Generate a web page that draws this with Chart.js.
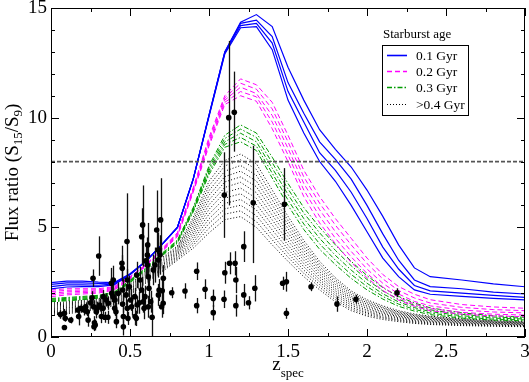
<html>
<head>
<script src="https://cdn.jsdelivr.net/npm/chart.js@4.4.1/dist/chart.umd.min.js"></script>
</head>
<body style="margin:0; background:#fff; overflow:hidden;">
<canvas id="fluxChart" width="529" height="382"></canvas>
<script>
// model grid in redshift
const zGrid = [0,0.1,0.2,0.3,0.4,0.5,0.6,0.7,0.8,0.9,1.0,1.1,1.2,1.3,1.4,1.5,1.6,1.7,1.8,1.9,2.0,2.1,2.2,2.3,2.4,2.6,2.8,3.0];

// 0.1 Gyr starburst tracks
const blueRuns = [
  [2.48,2.55,2.55,2.50,2.48,2.88,3.45,4.20,5.00,7.20,10.10,13.00,14.35,14.70,14.15,12.30,10.80,9.45,8.55,7.75,6.70,5.50,4.20,3.15,2.75,2.60,2.42,2.29],
  [2.40,2.47,2.47,2.44,2.45,2.86,3.45,4.20,5.00,7.20,10.10,13.00,14.30,14.45,13.70,11.60,10.20,8.90,8.10,7.20,6.00,4.70,3.50,2.60,2.30,2.20,2.05,1.96],
  [2.30,2.38,2.38,2.36,2.42,2.85,3.45,4.20,5.00,7.20,10.10,12.95,14.20,14.30,13.40,11.20,9.80,8.40,7.60,6.60,5.40,4.10,3.10,2.35,2.10,2.00,1.90,1.81],
  [2.19,2.28,2.30,2.30,2.38,2.84,3.45,4.20,5.00,7.20,10.05,12.90,14.10,14.15,13.10,10.80,9.30,8.00,7.10,6.00,4.80,3.60,2.75,2.15,1.95,1.85,1.76,1.69]
];
// 0.2 Gyr
const pinkRuns = [
  [2.14,2.20,2.20,2.20,2.30,2.75,3.30,4.00,4.76,6.80,9.10,11.00,11.77,11.50,10.70,9.20,7.60,6.40,5.40,4.50,3.60,2.85,2.30,1.95,1.70,1.48,1.37,1.31],
  [2.07,2.13,2.14,2.15,2.26,2.72,3.28,3.97,4.72,6.75,9.00,10.90,11.57,11.30,10.40,8.90,7.30,6.10,5.10,4.20,3.35,2.65,2.12,1.78,1.55,1.35,1.25,1.20],
  [1.99,2.06,2.08,2.10,2.22,2.70,3.26,3.94,4.67,6.70,8.90,10.80,11.39,11.10,10.10,8.60,7.00,5.80,4.80,3.90,3.10,2.45,1.96,1.62,1.42,1.23,1.14,1.10],
  [1.92,1.99,2.02,2.05,2.18,2.67,3.24,3.91,4.62,6.65,8.80,10.70,11.19,10.95,9.80,8.30,6.70,5.50,4.50,3.65,2.90,2.28,1.80,1.50,1.30,1.12,1.04,1.00],
  [1.84,1.92,1.96,2.00,2.14,2.64,3.22,3.88,4.57,6.60,8.70,10.60,11.00,10.75,9.50,8.00,6.40,5.20,4.25,3.40,2.70,2.12,1.68,1.40,1.20,1.04,0.96,0.93]
];
// 0.3 Gyr
const greenRuns = [
  [1.76,1.80,1.85,1.90,2.05,2.60,3.15,3.80,4.42,5.90,7.80,9.20,9.67,9.30,8.20,7.00,5.90,5.00,4.20,3.45,2.80,2.25,1.85,1.55,1.33,1.10,0.97,0.90],
  [1.72,1.76,1.81,1.86,2.02,2.57,3.12,3.77,4.38,5.85,7.70,9.05,9.48,9.10,7.95,6.75,5.65,4.75,3.95,3.25,2.62,2.10,1.72,1.44,1.24,1.03,0.91,0.86],
  [1.68,1.72,1.77,1.83,1.99,2.54,3.09,3.74,4.35,5.80,7.60,8.90,9.29,8.90,7.70,6.50,5.40,4.50,3.72,3.05,2.45,1.97,1.60,1.34,1.16,0.97,0.86,0.82],
  [1.64,1.68,1.73,1.80,1.96,2.51,3.06,3.71,4.31,5.75,7.50,8.78,9.10,8.70,7.47,6.25,5.15,4.25,3.50,2.85,2.30,1.85,1.50,1.26,1.09,0.91,0.81,0.78],
  [1.61,1.65,1.70,1.77,1.93,2.48,3.03,3.68,4.28,5.70,7.40,8.65,8.90,8.50,7.25,6.00,4.90,4.00,3.30,2.67,2.15,1.73,1.40,1.18,1.02,0.86,0.77,0.74]
];
// >0.4 Gyr
const greyRuns = [
  [1.55,1.60,1.67,1.75,1.90,2.42,3.00,3.60,4.15,5.45,7.10,8.05,8.34,7.90,6.70,5.50,4.40,3.45,2.70,2.10,1.70,1.42,1.20,1.05,0.95,0.83,0.75,0.70],
  [1.50,1.55,1.62,1.71,1.86,2.37,2.95,3.54,4.09,5.32,6.89,7.80,8.08,7.64,6.47,5.31,4.25,3.33,2.60,2.02,1.63,1.36,1.15,1.01,0.92,0.80,0.73,0.68],
  [1.45,1.50,1.58,1.66,1.81,2.33,2.90,3.48,4.03,5.20,6.67,7.56,7.82,7.37,6.25,5.13,4.10,3.21,2.50,1.94,1.56,1.31,1.11,0.97,0.88,0.77,0.70,0.66],
  [1.40,1.45,1.53,1.62,1.77,2.28,2.85,3.42,3.97,5.07,6.46,7.31,7.56,7.11,6.02,4.94,3.95,3.10,2.40,1.85,1.50,1.25,1.06,0.93,0.85,0.75,0.68,0.64],
  [1.35,1.40,1.48,1.58,1.73,2.23,2.80,3.36,3.91,4.94,6.25,7.07,7.30,6.85,5.79,4.75,3.80,2.98,2.30,1.77,1.43,1.19,1.02,0.89,0.81,0.72,0.66,0.62],
  [1.30,1.35,1.43,1.53,1.68,2.18,2.75,3.30,3.85,4.81,6.03,6.82,7.05,6.58,5.56,4.57,3.65,2.86,2.20,1.69,1.36,1.14,0.97,0.85,0.78,0.69,0.63,0.60],
  [1.25,1.31,1.39,1.49,1.64,2.14,2.70,3.25,3.80,4.69,5.82,6.58,6.79,6.32,5.34,4.38,3.50,2.74,2.10,1.61,1.29,1.08,0.93,0.82,0.74,0.66,0.61,0.57],
  [1.20,1.26,1.34,1.45,1.60,2.09,2.65,3.19,3.74,4.56,5.60,6.33,6.53,6.05,5.11,4.19,3.35,2.62,2.00,1.53,1.22,1.03,0.88,0.78,0.71,0.63,0.59,0.55],
  [1.15,1.21,1.29,1.40,1.55,2.04,2.60,3.13,3.68,4.43,5.39,6.09,6.27,5.79,4.88,4.01,3.20,2.51,1.90,1.45,1.15,0.97,0.84,0.74,0.67,0.61,0.56,0.53],
  [1.10,1.16,1.24,1.36,1.51,1.99,2.55,3.07,3.62,4.30,5.18,5.84,6.01,5.53,4.65,3.82,3.05,2.39,1.80,1.36,1.09,0.91,0.79,0.70,0.64,0.58,0.54,0.51],
  [1.05,1.11,1.20,1.31,1.46,1.95,2.50,3.01,3.56,4.18,4.96,5.60,5.75,5.26,4.43,3.64,2.90,2.27,1.70,1.28,1.02,0.86,0.75,0.66,0.60,0.55,0.51,0.49],
  [1.00,1.06,1.15,1.27,1.42,1.90,2.45,2.95,3.50,4.05,4.75,5.35,5.49,5.00,4.20,3.45,2.75,2.15,1.60,1.20,0.95,0.80,0.70,0.62,0.57,0.52,0.49,0.47]
];

// observed galaxies
const obsZ = [
  0.06,0.085,0.09,0.085,0.125,0.17,0.175,0.19,0.21,0.22,
  0.23,0.235,0.25,0.26,0.266,0.27,0.275,0.272,0.28,0.287,
  0.293,0.302,0.308,0.319,0.33,0.33,0.34,0.35,0.36,0.363,
  0.382,0.384,0.394,0.392,0.405,0.403,0.411,0.414,0.426,0.449,
  0.451,0.453,0.453,0.458,0.458,0.475,0.481,0.483,0.483,0.487,
  0.496,0.504,0.51,0.53,0.532,0.54,0.542,0.545,0.559,0.563,
  0.574,0.574,0.58,0.589,0.584,0.595,0.6,0.61,0.612,0.61,
  0.616,0.62,0.616,0.631,0.64,0.648,0.658,0.669,0.679,0.68,
  0.68,0.684,0.69,0.694,0.7,0.704,0.711,0.71,0.764,0.848,
  0.922,0.922,0.975,1.027,1.027,1.095,1.1,1.097,1.125,1.16,
  1.13,1.165,1.17,1.17,1.22,1.22,1.25,1.28,1.29,1.477,
  1.466,1.49,1.49,1.646,1.81,1.93,2.19
];
const obsFlux = [
  1.03,1.08,0.85,0.43,0.77,1.23,0.93,1.31,1.23,1.38,
  1.15,0.77,1.56,1.79,2.68,1.38,0.65,0.47,0.55,1.15,
  1.31,3.69,1.46,0.93,1.31,1.84,0.9,1.69,0.9,1.54,
  2.45,1.99,2.6,1.84,1.69,1.31,1.15,0.7,1.99,3.36,
  3.13,2.14,1.5,0.93,0.47,1.92,4.35,2.6,1.31,0.85,
  2.29,1.69,1.38,1.84,0.93,0.85,2.83,1.46,1.56,2.6,
  2.14,4.57,5.11,1.31,1.61,1.84,3.47,3.74,4.2,3.28,
  2.75,2.22,1.38,1.61,0.9,3.06,3.28,4.88,3.97,3.51,
  1.92,2.14,3.74,5.34,1.38,2.11,2.68,1.54,2.02,2.1,
  3.0,1.43,2.18,1.76,1.11,1.72,2.93,6.47,10.0,10.25,
  3.36,3.36,2.6,1.43,4.12,1.92,1.56,6.12,2.22,6.05,
  2.45,2.52,1.08,2.29,1.5,1.72,2.02
];
const obsErrLo = [
  0.2,0.2,0.15,0.1,0.15,0.2,0.4,0.2,0.25,0.2,
  0.2,0.3,0.25,0.3,0.4,0.3,0.3,0.2,0.25,0.3,
  0.3,0.9,0.3,0.3,0.3,0.3,0.25,0.3,0.3,0.3,
  0.7,0.4,0.65,0.4,0.4,0.35,0.4,0.3,0.5,0.8,
  0.6,0.5,0.4,0.5,0.4,0.5,1.75,0.5,0.4,0.3,
  0.5,0.5,0.4,0.4,0.4,0.35,0.6,0.4,0.5,0.6,
  0.6,1.3,1.9,0.5,0.5,0.5,0.7,0.8,1.0,0.6,
  0.6,0.6,0.5,0.5,0.9,0.7,0.8,1.1,0.8,0.8,
  0.5,0.5,0.9,1.6,0.5,0.6,0.6,0.5,0.25,0.35,
  0.4,0.35,0.45,0.4,0.35,0.4,0.5,1.95,4.0,1.8,
  0.5,0.55,0.6,0.5,0.7,0.5,0.3,2.75,0.6,1.65,
  0.3,0.45,0.25,0.2,0.35,0.2,0.2
];
const obsErrHi = [
  0.2,0.2,0.15,0.1,0.15,0.2,0.4,0.2,0.25,0.2,
  0.2,0.3,0.25,0.3,0.4,0.3,0.3,0.2,0.25,0.3,
  0.3,0.9,0.3,0.3,0.3,0.3,0.25,0.3,0.3,0.3,
  0.7,0.4,0.65,0.4,0.4,0.35,0.4,0.3,0.5,0.8,
  0.6,0.5,0.4,0.5,0.4,0.5,2.2,0.5,0.4,0.3,
  0.5,0.5,0.4,0.4,0.4,0.35,0.6,0.4,0.5,0.6,
  0.6,1.3,1.8,0.5,0.5,0.5,0.7,0.8,1.0,0.6,
  0.6,0.6,0.5,0.5,0.9,0.7,0.8,1.8,0.8,0.8,
  0.5,0.5,0.9,1.9,0.5,0.6,0.6,0.5,0.25,0.35,
  0.4,0.35,0.45,0.4,0.35,0.4,0.5,1.95,3.5,1.85,
  0.5,0.55,0.6,0.5,0.7,0.5,0.3,2.6,0.6,1.65,
  0.3,0.45,0.25,0.2,0.35,0.2,0.2
];

const cutZ = [0, 3];
const cutFlux = [8, 8];

const xTicks = [0, 0.5, 1, 1.5, 2, 2.5, 3];
const yTicks = [0, 5, 10, 15];
const xMinor = [0.25, 0.75, 1.25, 1.75, 2.25, 2.75];
const yMinor = [1,2,3,4,6,7,8,9,11,12,13,14];

const ageLabels = ['0.1 Gyr', '0.2 Gyr', '0.3 Gyr', '>0.4 Gyr'];

const serif = "'Liberation Serif', 'Times New Roman', serif";
const styles = [
  {color: '#0000ff', dash: [], width: 1.2},
  {color: '#ff00ff', dash: [5, 3], width: 1},
  {color: '#009a00', dash: [5, 2, 1.5, 2], width: 1},
  {color: '#000000', dash: [1, 2], width: 1}
];

function track(row, st) {
  return {
    data: zGrid.map((z, j) => ({x: z, y: row[j]})),
    showLine: true, pointRadius: 0, fill: false,
    borderColor: st.color, borderWidth: st.width, borderDash: st.dash
  };
}

const datasets = [];
datasets.push({
  data: obsZ.map((z, i) => ({x: z, y: obsFlux[i]})),
  pointRadius: 2.8, pointBackgroundColor: '#000', pointBorderColor: '#000', pointBorderWidth: 0,
  showLine: false
});
datasets.push({
  data: cutZ.map((z, i) => ({x: z, y: cutFlux[i]})),
  showLine: true, pointRadius: 0, borderColor: '#555', borderWidth: 1.8, borderDash: [4, 2]
});
blueRuns.forEach(r => datasets.push(track(r, styles[0])));
pinkRuns.forEach(r => datasets.push(track(r, styles[1])));
greenRuns.forEach(r => datasets.push(track(r, styles[2])));
greyRuns.forEach(r => datasets.push(track(r, styles[3])));

const decor = {
  id: 'decor',
  beforeDatasetDraw(chart, args) {
    if (args.index !== 0) return;
    const {ctx, chartArea: a, scales: {x, y}} = chart;
    ctx.save();
    ctx.beginPath(); ctx.rect(a.left, a.top, a.right - a.left, a.bottom - a.top); ctx.clip();
    ctx.strokeStyle = '#111'; ctx.lineWidth = 1.3;
    obsZ.forEach((z, i) => {
      const px = Math.round(x.getPixelForValue(z)) + 0.5;
      ctx.beginPath();
      ctx.moveTo(px, y.getPixelForValue(obsFlux[i] - obsErrLo[i]));
      ctx.lineTo(px, y.getPixelForValue(obsFlux[i] + obsErrHi[i]));
      ctx.stroke();
    });
    ctx.restore();
  },
  afterDraw(chart) {
    const {ctx, chartArea: a, scales: {x, y}} = chart;
    ctx.save();
    ctx.strokeStyle = '#000'; ctx.lineWidth = 1;
    ctx.strokeRect(a.left + 0.5, a.top + 0.5, a.right - a.left - 1, a.bottom - a.top - 1);
    ctx.beginPath();
    const xt = (v, len) => {
      const px = Math.round(x.getPixelForValue(v)) + 0.5;
      ctx.moveTo(px, a.bottom); ctx.lineTo(px, a.bottom - len);
      ctx.moveTo(px, a.top); ctx.lineTo(px, a.top + len);
    };
    const yt = (v, len) => {
      const py = Math.round(y.getPixelForValue(v)) + 0.5;
      ctx.moveTo(a.left, py); ctx.lineTo(a.left + len, py);
      ctx.moveTo(a.right, py); ctx.lineTo(a.right - len, py);
    };
    xTicks.forEach(v => xt(v, 8)); xMinor.forEach(v => xt(v, 4));
    yTicks.forEach(v => yt(v, 8)); yMinor.forEach(v => yt(v, 4));
    ctx.stroke();

    // axis titles
    ctx.fillStyle = '#000';
    ctx.textBaseline = 'alphabetic';
    const parts = [['Flux ratio (S', 19, 0], ['15', 13, 4], ['/S', 19, 0], ['9', 13, 4], [')', 19, 0]];
    let total = 0;
    parts.forEach(p => { ctx.font = p[1] + 'px ' + serif; p.push(ctx.measureText(p[0]).width); total += p[3]; });
    ctx.save();
    ctx.translate(18, (a.top + a.bottom) / 2);
    ctx.rotate(-Math.PI / 2);
    let cx = -total / 2;
    parts.forEach(p => { ctx.font = p[1] + 'px ' + serif; ctx.fillText(p[0], cx, p[2]); cx += p[3]; });
    ctx.restore();

    ctx.font = '19px ' + serif;
    const wz = ctx.measureText('z').width;
    ctx.font = '13px ' + serif;
    const ws = ctx.measureText('spec').width;
    const x0 = (a.left + a.right) / 2 - (wz + ws) / 2;
    ctx.font = '19px ' + serif; ctx.fillText('z', x0, 370);
    ctx.font = '13px ' + serif; ctx.fillText('spec', x0 + wz, 377);

    // legend
    ctx.font = '13px ' + serif;
    ctx.fillText('Starburst age', 383, 38);
    ctx.strokeStyle = '#000'; ctx.lineWidth = 1; ctx.setLineDash([]);
    ctx.strokeRect(382.5, 45.5, 86, 70);
    const rows = [55, 71, 87, 104];
    ageLabels.forEach((t, i) => {
      const st = styles[i];
      ctx.strokeStyle = st.color; ctx.lineWidth = i === 3 ? 1.2 : 1.6; ctx.setLineDash(st.dash);
      ctx.beginPath(); ctx.moveTo(387, rows[i] + 0.5); ctx.lineTo(407, rows[i] + 0.5); ctx.stroke();
      ctx.setLineDash([]);
      ctx.font = '13.5px ' + serif; ctx.textBaseline = 'middle';
      ctx.fillText(t, 416, rows[i] + 1);
    });
    ctx.restore();
  }
};

new Chart('fluxChart', {
  type: 'scatter',
  data: {datasets: datasets},
  options: {
    responsive: false, animation: false, devicePixelRatio: 1,
    layout: {padding: {top: 8, right: 4, left: 0, bottom: 0}},
    plugins: {legend: {display: false}, tooltip: {enabled: false}},
    scales: {
      x: {
        type: 'linear', min: 0, max: 3,
        afterBuildTicks: s => { s.ticks = xTicks.map(v => ({value: v})); },
        afterFit: s => { s.height = 45; s.paddingLeft = 0; s.paddingRight = 0; },
        grid: {display: false, drawTicks: false}, border: {display: false},
        ticks: {color: '#000', padding: 6, maxRotation: 0, autoSkip: false,
                callback: v => String(v),
                font: {family: serif, size: 19, lineHeight: 1}}
      },
      y: {
        type: 'linear', min: 0, max: 15,
        afterBuildTicks: s => { s.ticks = yTicks.map(v => ({value: v})); },
        afterFit: s => { s.width = 51; s.paddingTop = 0; s.paddingBottom = 0; },
        grid: {display: false, drawTicks: false}, border: {display: false},
        ticks: {color: '#000', padding: 4, callback: v => String(v),
                font: {family: serif, size: 19, lineHeight: 0.8}}
      }
    }
  },
  plugins: [decor]
});
</script>
</body>
</html>
